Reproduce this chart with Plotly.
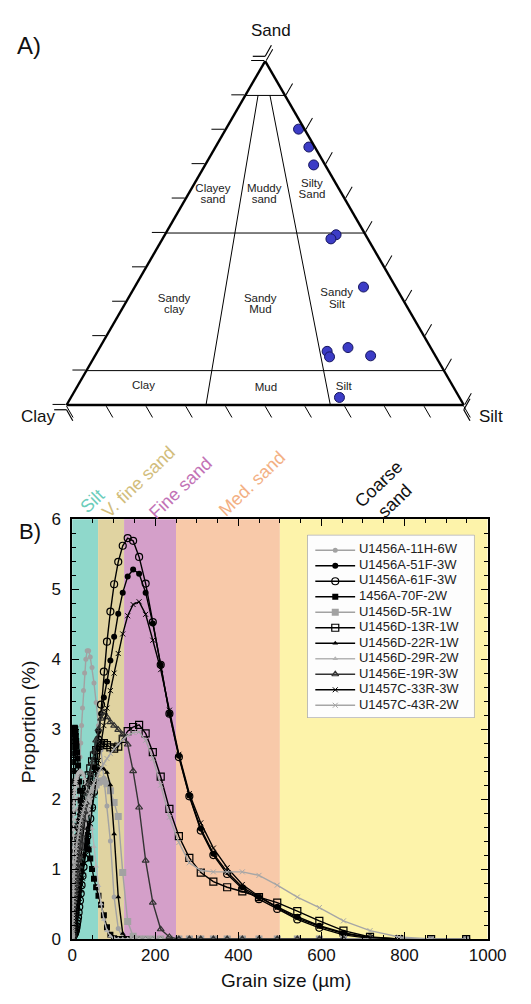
import plotly.graph_objects as go

W, H = 531, 1004
FONT = "Liberation Sans, Arial, sans-serif"

# ---------------- Panel A: ternary data ----------------
sample_sand = [80.2, 75.0, 69.8, 49.5, 48.3, 34.3, 15.6, 14.0, 16.7, 14.3, 2.2]
sample_clay = [1.5, 1.5, 2.9, 7.4, 9.3, 8.1, 26.6, 26.8, 20.8, 16.3, 30.2]
sample_silt = [18.3, 23.5, 27.3, 43.1, 42.4, 57.6, 57.8, 59.2, 62.5, 69.4, 67.6]

# class boundary segments (start, end) as sand / clay / silt %
boundary_sand = [[90, 90], [50, 50], [10, 10], [90, 0], [90, 0]]
boundary_clay = [[10, 0], [50, 0], [90, 0], [6.8, 64.9], [3.8, 33.6]]
boundary_silt = [[0, 10], [0, 50], [0, 90], [3.2, 35.1], [6.2, 66.4]]

region_words = ["Clayey", "sand", "Muddy", "sand", "Silty", "Sand", "Sandy", "clay",
                "Sandy", "Mud", "Sandy", "Silt", "Clay", "Mud", "Silt"]
region_sand = [62.7, 59.7, 62.9, 59.7, 64.3, 61.0, 30.7, 27.6, 30.7, 27.6, 32.4, 29.1, 5.5, 5.0, 5.2]
region_clay = [31.8, 33.3, 18.8, 20.4, 6.1, 7.7, 57.6, 59.1, 35.9, 37.4, 15.8, 17.4, 77.9, 47.3, 27.6]
region_silt = [5.5, 7.0, 18.3, 19.9, 29.6, 31.3, 11.7, 13.3, 33.4, 35.0, 51.8, 53.5, 16.6, 47.7, 67.2]

# ---------------- Panel B: grain size distributions ----------------
bins = [0.375, 0.412, 0.452, 0.496, 0.545, 0.598, 0.656, 0.721, 0.791, 0.868,
        0.953, 1.047, 1.149, 1.261, 1.385, 1.520, 1.669, 1.832,
        2.011, 2.207, 2.423, 2.660, 2.920, 3.206, 3.519, 3.863,
        4.241, 4.656, 5.111, 5.611, 6.159, 6.761, 7.422, 8.148, 8.944,
        9.819, 10.78, 11.83, 12.99, 14.26, 15.65, 17.18, 18.86,
        20.71, 22.73, 24.95, 27.39, 30.07, 33.01, 36.24, 39.78,
        43.67, 47.94, 52.62, 57.77, 63.41, 69.61, 76.42, 83.89,
        92.09, 101.1, 111.0, 121.8, 133.7, 146.8, 161.2, 176.9,
        194.2, 213.2, 234.1, 256.9, 282.1, 309.6, 339.9, 373.1, 409.6,
        449.7, 493.6, 541.9, 594.9, 653.0, 716.9, 786.9, 863.9, 948.3]

u1456a_11h_6w = [0, 0, 0.01, 0.01, 0.02, 0.03, 0.04, 0.05, 0.07, 0.09,
                 0.11, 0.14, 0.17, 0.2, 0.24, 0.28, 0.32, 0.36,
                 0.4, 0.44, 0.48, 0.52, 0.56, 0.6, 0.65, 0.7,
                 0.76, 0.82, 0.88, 0.95, 1.02, 1.1, 1.18, 1.27, 1.36,
                 1.46, 1.58, 1.7, 1.85, 2.0, 2.2, 2.4, 2.6,
                 2.8, 3.05, 3.3, 3.55, 3.8, 4.0, 4.12, 4.12,
                 4.03, 3.88, 3.66, 3.38, 3.05, 2.7, 2.3, 1.9,
                 1.4, 0.6, 0.15, 0.02, 0, 0, 0, 0,
                 0, 0, 0, 0, 0, 0, 0, 0, 0,
                 0, 0, 0, 0, 0, 0, 0, 0, 0]
u1456a_51f_3w = [0, 0, 0, 0, 0, 0.01, 0.01, 0.01, 0.02, 0.02,
                 0.03, 0.03, 0.04, 0.05, 0.05, 0.06, 0.07, 0.08,
                 0.09, 0.1, 0.11, 0.12, 0.13, 0.14, 0.15, 0.17,
                 0.18, 0.2, 0.22, 0.24, 0.26, 0.28, 0.3, 0.33, 0.36,
                 0.39, 0.43, 0.47, 0.52, 0.57, 0.63, 0.7, 0.78,
                 0.87, 0.97, 1.08, 1.2, 1.33, 1.47, 1.62, 1.8,
                 2.0, 2.22, 2.45, 2.7, 2.97, 3.22, 3.45, 3.68,
                 3.98, 4.32, 4.65, 4.95, 5.18, 5.28, 5.22, 4.95,
                 4.51, 3.92, 3.22, 2.62, 2.05, 1.58, 1.22, 0.96, 0.74,
                 0.6, 0.46, 0.32, 0.19, 0.09, 0.02, 0, 0, 0]
u1456a_61f_3w = [0, 0, 0, 0, 0, 0, 0, 0, 0.01, 0.01,
                 0.01, 0.01, 0.02, 0.02, 0.02, 0.03, 0.03, 0.03,
                 0.04, 0.04, 0.04, 0.05, 0.05, 0.05, 0.06, 0.06,
                 0.06, 0.07, 0.07, 0.08, 0.08, 0.09, 0.1, 0.11, 0.13,
                 0.15, 0.18, 0.22, 0.26, 0.31, 0.38, 0.46, 0.55,
                 0.65, 0.77, 0.9, 1.03, 1.15, 1.32, 1.47, 1.6,
                 1.72, 1.88, 2.1, 2.45, 2.85, 3.35, 3.82, 4.25,
                 4.68, 5.07, 5.39, 5.62, 5.73, 5.69, 5.46, 5.08,
                 4.53, 3.92, 3.22, 2.6, 2.04, 1.55, 1.2, 0.93, 0.72,
                 0.57, 0.43, 0.28, 0.16, 0.06, 0.01, 0, 0, 0]
u1456a_70f_2w = [0.05, 0.08, 0.11, 0.15, 0.2, 0.27, 0.35, 0.44, 0.55, 0.67,
                 0.8, 0.95, 1.1, 1.27, 1.45, 1.62, 1.8, 1.95,
                 2.1, 2.25, 2.4, 2.53, 2.65, 2.74, 2.82, 2.88,
                 2.93, 2.97, 3.0, 3.01, 3.02, 3.01, 3.0, 2.96, 2.9,
                 2.83, 2.75, 2.67, 2.58, 2.48, 2.37, 2.25, 2.12,
                 1.98, 1.85, 1.75, 1.67, 1.6, 1.5, 1.4, 1.28,
                 1.15, 1.0, 0.86, 0.74, 0.62, 0.49, 0.34, 0.17,
                 0.06, 0.01, 0, 0, 0, 0, 0, 0,
                 0, 0, 0, 0, 0, 0, 0, 0, 0,
                 0, 0, 0, 0, 0, 0, 0, 0, 0]
u1456d_5r_1w = [0, 0, 0, 0, 0.01, 0.01, 0.02, 0.03, 0.04, 0.05,
                0.07, 0.09, 0.11, 0.13, 0.15, 0.18, 0.21, 0.24,
                0.27, 0.3, 0.33, 0.36, 0.4, 0.43, 0.47, 0.51,
                0.55, 0.59, 0.63, 0.67, 0.71, 0.75, 0.8, 0.84, 0.88,
                0.93, 0.98, 1.03, 1.08, 1.14, 1.2, 1.27, 1.34,
                1.42, 1.5, 1.58, 1.66, 1.74, 1.82, 1.9, 1.97,
                2.04, 2.1, 2.16, 2.2, 2.24, 2.26, 2.26, 2.22,
                2.12, 1.95, 1.75, 0.95, 0.25, 0.04, 0, 0,
                0, 0, 0, 0, 0, 0, 0, 0, 0,
                0, 0, 0, 0, 0, 0, 0, 0, 0]
u1456d_13r_1w = [0, 0, 0, 0, 0.01, 0.01, 0.02, 0.02, 0.03, 0.04,
                 0.05, 0.06, 0.07, 0.08, 0.1, 0.11, 0.13, 0.15,
                 0.17, 0.19, 0.21, 0.24, 0.27, 0.3, 0.33, 0.37,
                 0.41, 0.45, 0.5, 0.55, 0.6, 0.66, 0.72, 0.78, 0.85,
                 0.92, 1.0, 1.08, 1.16, 1.25, 1.34, 1.44, 1.54,
                 1.64, 1.74, 1.84, 1.94, 2.04, 2.14, 2.24, 2.34,
                 2.44, 2.54, 2.62, 2.7, 2.76, 2.8, 2.8, 2.77,
                 2.74, 2.72, 2.75, 2.86, 2.97, 3.03, 3.06, 2.94,
                 2.67, 2.32, 1.86, 1.47, 1.16, 0.95, 0.82, 0.74, 0.68,
                 0.6, 0.52, 0.4, 0.26, 0.12, 0.03, 0, 0, 0]
u1456d_22r_1w = [0, 0, 0, 0.01, 0.01, 0.02, 0.03, 0.04, 0.05, 0.07,
                 0.09, 0.11, 0.13, 0.16, 0.19, 0.22, 0.25, 0.29,
                 0.33, 0.37, 0.41, 0.46, 0.51, 0.56, 0.61, 0.67,
                 0.73, 0.79, 0.85, 0.92, 0.99, 1.06, 1.13, 1.2, 1.28,
                 1.35, 1.43, 1.5, 1.58, 1.65, 1.72, 1.79, 1.86,
                 1.92, 1.98, 2.04, 2.1, 2.15, 2.2, 2.25, 2.29,
                 2.33, 2.36, 2.39, 2.41, 2.43, 2.44, 2.43, 2.38,
                 2.2, 1.5, 0.6, 0.08, 0, 0, 0, 0,
                 0, 0, 0, 0, 0, 0, 0, 0, 0,
                 0, 0, 0, 0, 0, 0, 0, 0, 0]
u1456d_29r_2w = [0.02, 0.04, 0.07, 0.1, 0.14, 0.19, 0.25, 0.32, 0.4, 0.49,
                 0.58, 0.68, 0.78, 0.89, 1.0, 1.1, 1.2, 1.3,
                 1.39, 1.48, 1.56, 1.64, 1.71, 1.78, 1.84, 1.9,
                 1.95, 2.0, 2.05, 2.09, 2.13, 2.17, 2.2, 2.23, 2.26,
                 2.29, 2.31, 2.33, 2.35, 2.37, 2.38, 2.39, 2.4,
                 2.4, 2.39, 2.37, 2.34, 2.29, 2.22, 2.12, 1.98,
                 1.8, 1.58, 1.32, 1.04, 0.76, 0.5, 0.28, 0.12,
                 0.04, 0.01, 0, 0, 0, 0, 0, 0,
                 0, 0, 0, 0, 0, 0, 0, 0, 0,
                 0, 0, 0, 0, 0, 0, 0, 0, 0]
u1456e_19r_3w = [0, 0, 0, 0, 0.01, 0.01, 0.01, 0.02, 0.02, 0.03,
                 0.04, 0.05, 0.06, 0.07, 0.08, 0.1, 0.11, 0.13,
                 0.15, 0.17, 0.19, 0.21, 0.24, 0.27, 0.3, 0.33,
                 0.36, 0.4, 0.44, 0.48, 0.52, 0.57, 0.62, 0.67, 0.72,
                 0.78, 0.84, 0.9, 0.97, 1.04, 1.12, 1.2, 1.29,
                 1.38, 1.48, 1.59, 1.7, 1.82, 1.95, 2.08, 2.22,
                 2.37, 2.52, 2.68, 2.84, 3.0, 3.15, 3.24, 3.17,
                 3.1, 3.05, 2.99, 2.92, 2.78, 2.4, 1.88, 1.12,
                 0.52, 0.14, 0.03, 0, 0, 0, 0, 0, 0,
                 0, 0, 0, 0, 0, None, None, None, None]
u1457c_33r_3w = [0, 0, 0, 0, 0, 0, 0.01, 0.01, 0.01, 0.01,
                 0.02, 0.02, 0.02, 0.03, 0.03, 0.04, 0.04, 0.05,
                 0.05, 0.06, 0.07, 0.07, 0.08, 0.09, 0.1, 0.11,
                 0.12, 0.13, 0.15, 0.16, 0.18, 0.2, 0.22, 0.24, 0.27,
                 0.3, 0.33, 0.37, 0.41, 0.46, 0.52, 0.58, 0.64,
                 0.7, 0.78, 0.87, 0.97, 1.08, 1.2, 1.33, 1.48,
                 1.65, 1.85, 2.05, 2.3, 2.55, 2.8, 3.05, 3.3,
                 3.55, 3.8, 4.08, 4.36, 4.62, 4.78, 4.82, 4.64,
                 4.27, 3.85, 3.27, 2.64, 2.08, 1.66, 1.3, 1.02, 0.78,
                 0.61, 0.45, 0.3, 0.18, 0.08, 0.02, 0, None, None]
u1457c_43r_2w = [0, 0.01, 0.01, 0.02, 0.03, 0.04, 0.05, 0.07, 0.09, 0.11,
                 0.14, 0.17, 0.2, 0.24, 0.28, 0.32, 0.36, 0.41,
                 0.46, 0.51, 0.56, 0.61, 0.66, 0.71, 0.76, 0.81,
                 0.86, 0.91, 0.96, 1.01, 1.06, 1.11, 1.16, 1.21, 1.26,
                 1.31, 1.36, 1.41, 1.46, 1.51, 1.56, 1.61, 1.66,
                 1.71, 1.76, 1.81, 1.86, 1.91, 1.96, 2.01, 2.06,
                 2.11, 2.17, 2.23, 2.3, 2.37, 2.44, 2.51, 2.58,
                 2.65, 2.72, 2.79, 2.85, 2.91, 2.95, 2.96, 2.84,
                 2.58, 2.2, 1.74, 1.38, 1.09, 0.98, 0.96, 0.96, 0.96,
                 0.91, 0.77, 0.6, 0.45, 0.26, 0.12, 0.03, 0, None]

series_names = ["U1456A-11H-6W", "U1456A-51F-3W", "U1456A-61F-3W", "1456A-70F-2W",
                "U1456D-5R-1W", "U1456D-13R-1W", "U1456D-22R-1W", "U1456D-29R-2W",
                "U1456E-19R-3W", "U1457C-33R-3W", "U1457C-43R-2W"]
series_values = [u1456a_11h_6w, u1456a_51f_3w, u1456a_61f_3w, u1456a_70f_2w,
                 u1456d_5r_1w, u1456d_13r_1w, u1456d_22r_1w, u1456d_29r_2w,
                 u1456e_19r_3w, u1457c_33r_3w, u1457c_43r_2w]

band_edges = [0, 62.5, 125, 250, 500, 1000]
band_labels = ["Silt", "V. fine sand", "Fine sand", "Med. sand", "Coarse<br>sand"]

# ---------------- styles ----------------
series_colors = ["#a2a2a2", "#000000", "#000000", "#000000", "#a2a2a2", "#000000",
                 "#000000", "#b4b4b4", "#333333", "#000000", "#a6a6a6"]
series_symbols = ["circle", "circle", "circle-open", "square", "square", "square-open",
                  "triangle-up", "triangle-up", "triangle-up-open", "x-thin", "x-thin"]
series_sizes = [5, 6, 7, 6, 7, 7, 5, 5, 6, 5, 5]
band_colors = ["#8fd8cb", "#e0d3a1", "#d49fc9", "#f8c9a9", "#fdf3aa"]
band_text_colors = ["#6ccdbb", "#d2bd7c", "#c272b6", "#f3b084", "#111111"]

for v in series_values:
    assert len(v) == len(bins), len(v)


def marker_style(col, sym, sz):
    if sym.endswith("open"):
        return dict(symbol=sym, size=sz, color=col, line=dict(color=col, width=1.2))
    if sym.startswith("x"):
        return dict(symbol=sym, size=sz, color=col, line=dict(color=col, width=1))
    return dict(symbol=sym, size=sz, color=col, line=dict(width=0))


fig = go.Figure()

# ---- ternary (panel A) ----
tern_dom_x = [64.5 / W, 480.5 / W]
tern_dom_y = [0.59228, 0.95284]
for i in range(len(boundary_sand)):
    fig.add_trace(go.Scatterternary(
        a=boundary_sand[i], b=boundary_clay[i], c=boundary_silt[i], mode="lines",
        line=dict(color="black", width=1), showlegend=False, hoverinfo="skip"))
fig.add_trace(go.Scatterternary(
    a=region_sand, b=region_clay, c=region_silt, mode="text", text=region_words,
    textfont=dict(family=FONT, size=11.5, color="#222"), showlegend=False, hoverinfo="skip"))
fig.add_trace(go.Scatterternary(
    a=sample_sand, b=sample_clay, c=sample_silt, mode="markers",
    marker=dict(size=10, color="#3c3cc6", line=dict(color="#16165e", width=1)),
    showlegend=False))

TICKLEN = 13
tern_axis = dict(title=dict(text=""), showgrid=False, showticklabels=False,
                 ticks="outside", ticklen=TICKLEN, tickwidth=1.2, tickcolor="black",
                 linecolor="black", linewidth=2.4, tick0=0, dtick=10, min=0)

# ---- distribution curves (panel B) ----
for name, vals, col, sym, sz in zip(series_names, series_values, series_colors,
                                     series_symbols, series_sizes):
    fig.add_trace(go.Scatter(
        x=bins, y=vals, mode="lines+markers", name=name, showlegend=False,
        line=dict(color=col, width=1.4), marker=marker_style(col, sym, sz),
        xaxis="x", yaxis="y", connectgaps=False))

# ---- legend box drawn on its own small axes ----
leg_w, leg_h = 175, 186.7
fig.add_trace(go.Scatter(
    x=[0, leg_w, leg_w, 0, 0], y=[0, 0, leg_h, leg_h, 0], mode="lines", fill="toself",
    fillcolor="#fdfdfd", line=dict(color="#8a8a8a", width=1), xaxis="x2", yaxis="y2",
    showlegend=False, hoverinfo="skip"))
leg_y = [15.7 + 15.8 * i for i in range(len(series_names))]
for i, (col, sym, sz) in enumerate(zip(series_colors, series_symbols, series_sizes)):
    fig.add_trace(go.Scatter(
        x=[8.3, 50], y=[leg_y[i], leg_y[i]], mode="lines", line=dict(color=col, width=1.4),
        xaxis="x2", yaxis="y2", showlegend=False, hoverinfo="skip"))
    fig.add_trace(go.Scatter(
        x=[29.2], y=[leg_y[i]], mode="markers", marker=marker_style(col, sym, sz),
        xaxis="x2", yaxis="y2", showlegend=False, hoverinfo="skip"))
fig.add_trace(go.Scatter(
    x=[54] * len(series_names), y=leg_y, mode="text", text=series_names,
    textposition="middle right", textfont=dict(family=FONT, size=13, color="#222"),
    xaxis="x2", yaxis="y2", showlegend=False, hoverinfo="skip"))

# ---- grain-class bands ----
shapes = []
for i, colr in enumerate(band_colors):
    shapes.append(dict(type="rect", xref="x", yref="y domain", x0=band_edges[i],
                       x1=band_edges[i + 1], y0=0, y1=1, fillcolor=colr,
                       line=dict(width=0), layer="below"))

# ---- corner ticks of the ternary (plotly omits the end ticks) ----
tw = (tern_dom_x[1] - tern_dom_x[0]) * W
th = tw * 3 ** 0.5 / 2
cx = (tern_dom_x[0] + tern_dom_x[1]) / 2 * W
cy = (1 - (tern_dom_y[0] + tern_dom_y[1]) / 2) * H
apex = (cx, cy - th / 2)
clay_c = (cx - tw / 2, cy + th / 2)
silt_c = (cx + tw / 2, cy + th / 2)
dir_a = (-TICKLEN, 0)
dir_b = (TICKLEN * 0.5, TICKLEN * 0.866)
dir_c = (TICKLEN * 0.5, -TICKLEN * 0.866)
for (px0, py0), (dx, dy) in [(apex, dir_a), (apex, dir_c), (clay_c, dir_a),
                             (clay_c, dir_b), (silt_c, dir_b), (silt_c, dir_c)]:
    shapes.append(dict(type="line", xref="paper", yref="paper",
                       x0=px0 / W, y0=1 - py0 / H, x1=(px0 + dx) / W, y1=1 - (py0 + dy) / H,
                       line=dict(color="black", width=1.2), layer="above"))

band_label_x = [49, 160, 261, 432, 757]
band_label_py = [501.7, 482.3, 488.3, 484.0, 493.3]
annotations = []
for lab, bx, by, tc in zip(band_labels, band_label_x, band_label_py, band_text_colors):
    annotations.append(dict(text=lab, x=bx, y=1 - by / H, xref="x", yref="paper",
                            xanchor="center", yanchor="middle",
                            showarrow=False, textangle=-44,
                            font=dict(family=FONT, size=18, color=tc)))


def ann(text, px, py, size, angle=0, color="#111"):
    return dict(text=text, x=px / W, y=1 - py / H, xref="paper", yref="paper",
                xanchor="center", yanchor="middle",
                showarrow=False, textangle=angle,
                font=dict(family=FONT, size=size, color=color))


annotations += [
    ann("A)", 25, 37, 24),
    ann("B)", 26, 533, 22),
    ann("Sand", 279, 22, 17),
    ann("Clay", 35, 415, 17),
    ann("Silt", 509, 415, 17),
    ann("Grain size (µm)", 294, 990, 19),
    ann("Proportion (%)", 24, 726, 19, -90),
]

fig.update_layout(
    width=W, height=H, margin=dict(l=0, r=0, t=0, b=0),
    paper_bgcolor="white", plot_bgcolor="white",
    font=dict(family=FONT, color="#111"),
    showlegend=False,
    ternary=dict(sum=100, bgcolor="white",
                 domain=dict(x=tern_dom_x, y=tern_dom_y),
                 aaxis=tern_axis, baxis=tern_axis, caxis=tern_axis),
    xaxis=dict(domain=[70.3 / W, 505.5 / W], range=[0, 1000], anchor="y",
               showline=True, linecolor="black", linewidth=1.5, mirror="allticks",
               ticks="inside", ticklen=7, tickwidth=1, tickcolor="black",
               tick0=0, dtick=200, showgrid=False, zeroline=False,
               minor=dict(dtick=50, ticks="inside", ticklen=4, tickwidth=1,
                          tickcolor="black", showgrid=False),
               tickfont=dict(family=FONT, size=17, color="#111")),
    yaxis=dict(domain=[1 - 948 / H, 1 - 520 / H], range=[0, 6], anchor="x",
               showline=True, linecolor="black", linewidth=1.5, mirror="allticks",
               ticks="inside", ticklen=7, tickwidth=1, tickcolor="black",
               tick0=0, dtick=1, showgrid=False, zeroline=False, ticklabelstandoff=6,
               minor=dict(dtick=0.2, ticks="inside", ticklen=4, tickwidth=1,
                          tickcolor="black", showgrid=False),
               tickfont=dict(family=FONT, size=17, color="#111")),
    xaxis2=dict(domain=[316.7 / W, 491.7 / W], range=[0, leg_w], anchor="y2",
                visible=False, fixedrange=True),
    yaxis2=dict(domain=[1 - 722.7 / H, 1 - 536 / H], range=[leg_h, 0], anchor="x2",
                visible=False, fixedrange=True),
    shapes=shapes, annotations=annotations,
)

fig.write_html("out.html",
               post_script="document.body.style.margin='0';document.body.style.overflow='hidden';")
